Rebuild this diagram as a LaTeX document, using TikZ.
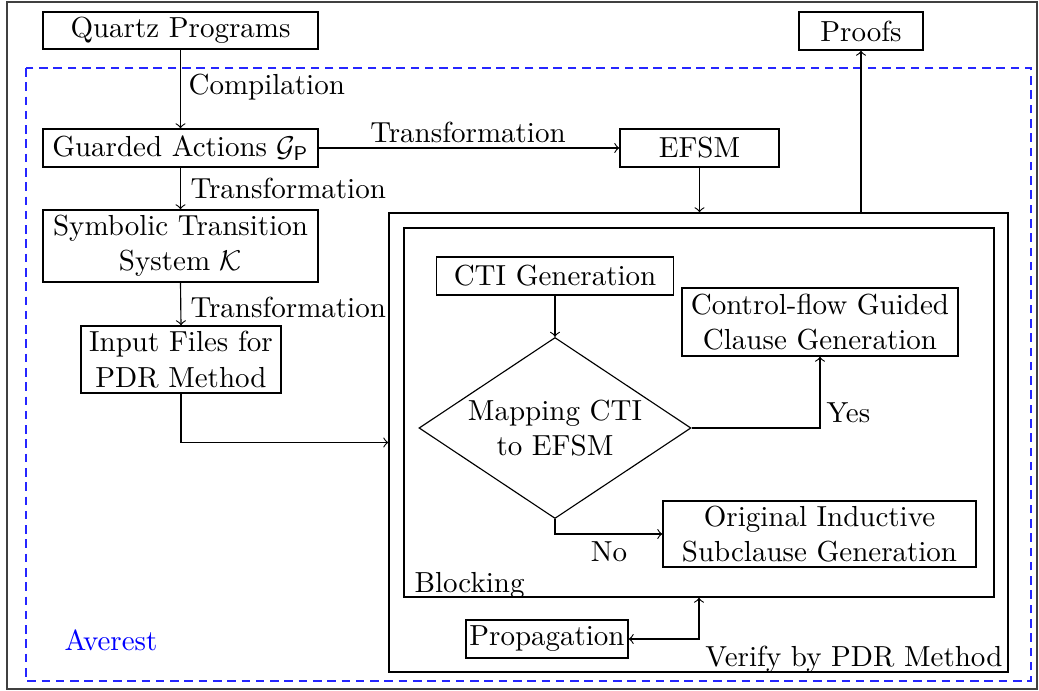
\documentclass[tikz,border=0pt]{standalone}
\usetikzlibrary{shapes.geometric}
\begin{document}
\begin{tikzpicture}[x=0.35pt,y=-0.35pt,
  bx/.style 2 args={draw, minimum width=#1*0.35pt, minimum height=#2*0.35pt, inner sep=0pt, align=center},
  lbl/.style={inner sep=0pt},
  arr/.style={->},
  frame/.style={draw=black!75},
  avframe/.style={draw=blue!85, dash pattern=on 3pt off 2pt},
  every node/.append style={font=\fontsize{10.15}{12.4}\selectfont}
]
\useasboundingbox (0,0) rectangle (1039,691);
\draw[frame] (7,2) rectangle (1037,689);
\draw[avframe] (26,68) rectangle (1031,681);

% left column
\node[bx={275}{37}] (quartz) at (180.5,30.5) {Quartz Programs};
\node[bx={275}{38}] (guarded) at (180.5,148) {Guarded Actions $\mathcal{G}_{\mathsf{P}}$};
\node[bx={275}{72}] (sym) at (180.5,246) {Symbolic Transition\\System $\mathcal{K}$};
\node[bx={200}{67}] (input) at (181,359.5) {Input Files for\\PDR Method};
\node[bx={159}{38}] (efsm) at (699.5,148) {EFSM};
\node[bx={124}{38}] (proofs) at (861,31) {Proofs};

% verify and blocking
\node[bx={619}{459}] (verify) at (698.5,442.5) {};
\node[bx={590}{369}] (block) at (699,412.5) {};
\node[bx={237}{38}] (cti) at (555,276) {CTI Generation};
\node[draw, shape=diamond, aspect=1.5, inner sep=0pt, align=center,
      minimum width=272*0.35pt, minimum height=181*0.35pt] (dia) at (555,428) {Mapping CTI\\to EFSM};
\node[bx={276}{68}] (cfg) at (820,322) {Control-flow Guided\\Clause Generation};
\node[bx={313}{66}] (orig) at (819.5,534) {Original Inductive\\Subclause Generation};
\node[bx={162}{38}] (prop) at (547,639) {Propagation};

% labels
\node[lbl, anchor=west] (lcomp) at (188,87) {Compilation};
\node[lbl, anchor=west] (ltr1) at (190,188) {Transformation};
\node[lbl, anchor=west] (ltr2) at (190,307) {Transformation};
\node[lbl] (ltr3) at (468,132) {Transformation};
\node[lbl, anchor=west] (lyes) at (826,413) {Yes};
\node[lbl] (lno) at (609,552) {No};
\node[lbl, anchor=base west] (lblock) at (414,592) {Blocking};
\node[lbl, anchor=base east] (lverify) at (1003,666) {Verify by PDR Method};
\node[lbl, anchor=base west, text=blue] (lav) at (64,650) {Averest};

% connectors
\draw[arr] (quartz.south) -- (guarded.north);
\draw[arr] (guarded.east) -- (efsm.west);
\draw[arr] (guarded.south) -- (sym.north);
\draw[arr] (sym.south) -- (input.north);
\draw[arr] (efsm.south) -- (efsm.south |- verify.north);
\draw[arr] (input.south) |- (verify.west);
\draw[arr] (proofs.south |- verify.north) -- (proofs.south);
\draw[arr] (cti.south) -- (dia.north);
\draw[arr] (dia.east) -| (cfg.south);
\draw[arr] (dia.south) |- (orig.west);
\draw[<->] (prop.east) -| (block.south);
\end{tikzpicture}
\end{document}
